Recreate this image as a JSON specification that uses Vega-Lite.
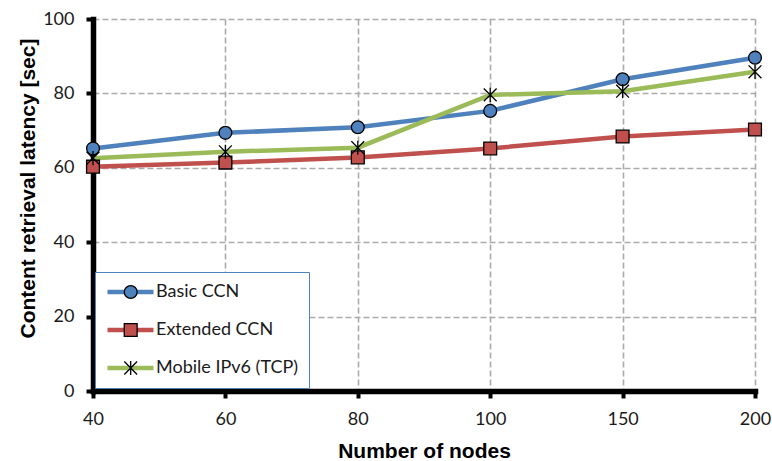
{
  "$schema": "https://vega.github.io/schema/vega-lite/v6.json",
  "width": 662,
  "height": 372,
  "autosize": {"type": "none"},
  "padding": {"left": 93, "top": 19, "right": 17, "bottom": 70},
  "background": "white",
  "data": {
    "values": [
      {"nodes": 40, "series": "Basic CCN", "latency": 65.2},
      {"nodes": 60, "series": "Basic CCN", "latency": 69.4},
      {"nodes": 80, "series": "Basic CCN", "latency": 70.9},
      {"nodes": 100, "series": "Basic CCN", "latency": 75.3},
      {"nodes": 150, "series": "Basic CCN", "latency": 83.8},
      {"nodes": 200, "series": "Basic CCN", "latency": 89.6},
      {"nodes": 40, "series": "Extended CCN", "latency": 60.3},
      {"nodes": 60, "series": "Extended CCN", "latency": 61.4},
      {"nodes": 80, "series": "Extended CCN", "latency": 62.8},
      {"nodes": 100, "series": "Extended CCN", "latency": 65.2},
      {"nodes": 150, "series": "Extended CCN", "latency": 68.4},
      {"nodes": 200, "series": "Extended CCN", "latency": 70.3},
      {"nodes": 40, "series": "Mobile IPv6 (TCP)", "latency": 62.6},
      {"nodes": 60, "series": "Mobile IPv6 (TCP)", "latency": 64.3},
      {"nodes": 80, "series": "Mobile IPv6 (TCP)", "latency": 65.4},
      {"nodes": 100, "series": "Mobile IPv6 (TCP)", "latency": 79.6},
      {"nodes": 150, "series": "Mobile IPv6 (TCP)", "latency": 80.6},
      {"nodes": 200, "series": "Mobile IPv6 (TCP)", "latency": 85.8}
    ]
  },
  "config": {
    "view": {"stroke": null},
    "axis": {
      "labelFont": "Lato",
      "labelFontSize": 18,
      "labelColor": "#1a1a1a",
      "titleFont": "Liberation Sans",
      "titleFontSize": 21,
      "titleFontWeight": "bold",
      "titleColor": "#000000",
      "domainColor": "#000000",
      "domainWidth": 5.5,
      "tickColor": "#000000",
      "tickWidth": 4,
      "gridColor": "#ababab",
      "gridDash": [6, 3],
      "gridWidth": 1.6
    }
  },
  "encoding": {
    "x": {
      "field": "nodes",
      "type": "ordinal",
      "scale": {"type": "point", "padding": 0},
      "axis": {
        "title": "Number of nodes",
        "labelAngle": 0,
        "tickSize": 7,
        "labelPadding": 12,
        "titlePadding": 12,
        "grid": true,
        "domainCap": "square"
      }
    },
    "y": {
      "field": "latency",
      "type": "quantitative",
      "scale": {"domain": [0, 100], "nice": false},
      "axis": {
        "title": "Content retrieval latency [sec]",
        "values": [0, 20, 40, 60, 80, 100],
        "tickSize": 7,
        "labelPadding": 12,
        "titlePadding": 4,
        "titleY": 169,
        "grid": true,
        "domainCap": "square"
      }
    }
  },
  "layer": [
    {
      "mark": {"type": "line", "strokeWidth": 4.5},
      "encoding": {
        "stroke": {
          "field": "series",
          "type": "nominal",
          "scale": {
            "domain": ["Basic CCN", "Extended CCN", "Mobile IPv6 (TCP)"],
            "range": ["#4F81BD", "#C0504D", "#9BBB59"]
          },
          "legend": {
            "title": null,
            "orient": "none",
            "legendX": 2,
            "legendY": 253,
            "symbolType": "stroke",
            "symbolSize": 2116,
            "symbolStrokeWidth": 4.5,
            "clipHeight": 20,
            "rowPadding": 18,
            "padding": 10,
            "labelOffset": 0,
            "labelFont": "Lato",
            "labelFontSize": 18,
            "labelColor": "#1a1a1a",
            "labelLimit": 300,
            "fillColor": "white",
            "strokeColor": "#4F81BD",
            "zindex": 0
          }
        }
      }
    },
    {
      "mark": {"type": "point", "filled": true, "size": 165, "stroke": "#000000", "strokeWidth": 1.3, "opacity": 1},
      "encoding": {
        "fill": {
          "field": "series",
          "type": "nominal",
          "scale": {"range": ["#4F81BD", "#C0504D", "#9BBB59"]},
          "legend": {
            "title": null,
            "orient": "none",
            "legendX": 18.7,
            "legendY": 253,
            "symbolSize": 165,
            "symbolStrokeColor": "#000000",
            "symbolStrokeWidth": 1.3,
            "symbolOpacity": 1,
            "clipHeight": 20,
            "rowPadding": 18,
            "padding": 10,
            "labelExpr": "''",
            "labelFontSize": 18,
            "zindex": 1
          }
        },
        "shape": {
          "field": "series",
          "type": "nominal",
          "scale": {
            "range": ["circle", "square", "M-1,-1L1,1M-1,1L1,-1M0,-1.1L0,1.1"]
          },
          "legend": {
            "title": null,
            "orient": "none",
            "legendX": 18.7,
            "legendY": 253,
            "symbolSize": 165,
            "clipHeight": 20,
            "rowPadding": 18,
            "padding": 10,
            "labelExpr": "''",
            "zindex": 1
          }
        }
      }
    }
  ]
}
